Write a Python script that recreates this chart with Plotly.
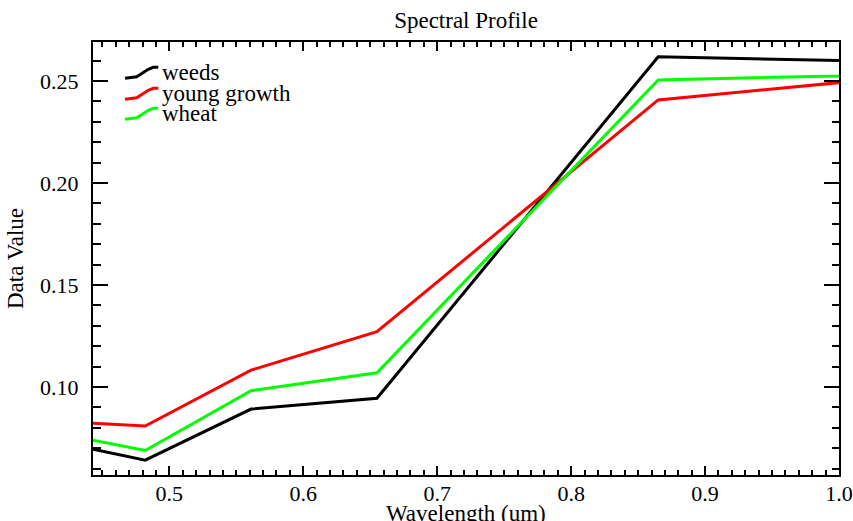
import plotly.graph_objects as go

# Landsat-like band centres (um)
wavelength = [0.443, 0.482, 0.561, 0.655, 0.865, 1.609]
weeds = [0.0695, 0.0642, 0.0892, 0.0945, 0.2619, 0.2514]
young_growth = [0.0822, 0.0809, 0.1083, 0.1271, 0.2407, 0.2875]
wheat = [0.0740, 0.0689, 0.0982, 0.1070, 0.2505, 0.2615]

series_names = ["weeds", "young growth", "wheat"]
series_values = [weeds, young_growth, wheat]
series_colors = ["#000000", "#ff0000", "#00ff00"]

W, H = 853, 521
L, R, T, B = 93, 14, 42, 46
PW, PH = W - L - R, H - T - B
FONT = "Liberation Serif, Times New Roman, serif"

fig = go.Figure()
for name, vals, col in zip(series_names, series_values, series_colors):
    fig.add_trace(go.Scatter(x=wavelength, y=vals, mode="lines", name=name,
                             line=dict(color=col, width=3), showlegend=False))

def px2paper(px, py):
    return (px - L) / PW, (T + PH - py) / PH

# legend built from annotations + small stepped sample lines (IDL style)
sample_shape = [(125, 0.0), (136.7, -1.6), (148.3, -9.0), (153.3, -11.0), (158.3, -11.0)]
row_y = [78.3, 99.3, 119.3]
text_y = [72, 93, 113]
shapes = []
annotations = []
for i, (name, col) in enumerate(zip(series_names, series_colors)):
    pts = [px2paper(x, row_y[i] + dy) for x, dy in sample_shape]
    path = "M " + " L ".join(f"{a:.5f},{b:.5f}" for a, b in pts)
    shapes.append(dict(type="path", xref="paper", yref="paper", path=path,
                       line=dict(color=col, width=3)))
    tx, ty = px2paper(160, text_y[i])
    annotations.append(dict(text=name, x=tx, y=ty, xref="paper", yref="paper",
                            xanchor="left", yanchor="middle", showarrow=False,
                            font=dict(family=FONT, size=23, color="black")))

# x-axis title (placed like the original, partly below the visible page)
xt_x, xt_y = px2paper(0, 499)
annotations.append(dict(text="Wavelength (um)", x=0.5, y=xt_y, xref="paper", yref="paper",
                        xanchor="center", yanchor="top", showarrow=False,
                        font=dict(family=FONT, size=23, color="black")))

axis_common = dict(showline=True, linecolor="black", linewidth=2, mirror="ticks",
                   ticks="inside", tickcolor="black", tickwidth=1.5,
                   showgrid=False, zeroline=False,
                   tickfont=dict(family=FONT, size=22, color="black"))

fig.update_xaxes(range=[0.443, 1.0], dtick=0.1, tick0=0.0, tickformat=".1f",
                 ticklen=9, ticklabelstandoff=-2,
                 minor=dict(dtick=0.01, ticks="inside", ticklen=5, tickcolor="black",
                            tickwidth=1.5, showgrid=False),
                 **axis_common)
fig.update_yaxes(range=[0.0569, 0.2691], dtick=0.05, tick0=0.0, tickformat=".2f",
                 ticklen=15, ticklabelstandoff=8,
                 minor=dict(dtick=0.01, ticks="inside", ticklen=7.5, tickcolor="black",
                            tickwidth=1.5, showgrid=False),
                 title=dict(text="Data Value", font=dict(family=FONT, size=23, color="black"),
                            standoff=10),
                 **axis_common)

fig.update_layout(
    width=W, height=H,
    margin=dict(l=L, r=R, t=T, b=B, autoexpand=False),
    paper_bgcolor="white", plot_bgcolor="white",
    title=dict(text="Spectral Profile", x=0.5, xref="paper", xanchor="center",
               y=1 - 20 / H, yref="container", yanchor="middle",
               font=dict(family=FONT, size=23, color="black")),
    shapes=shapes, annotations=annotations, showlegend=False,
)

fig.write_html("out.html", config={"displayModeBar": False},
               post_script="document.body.style.margin='0px';document.body.style.overflow='hidden';")
